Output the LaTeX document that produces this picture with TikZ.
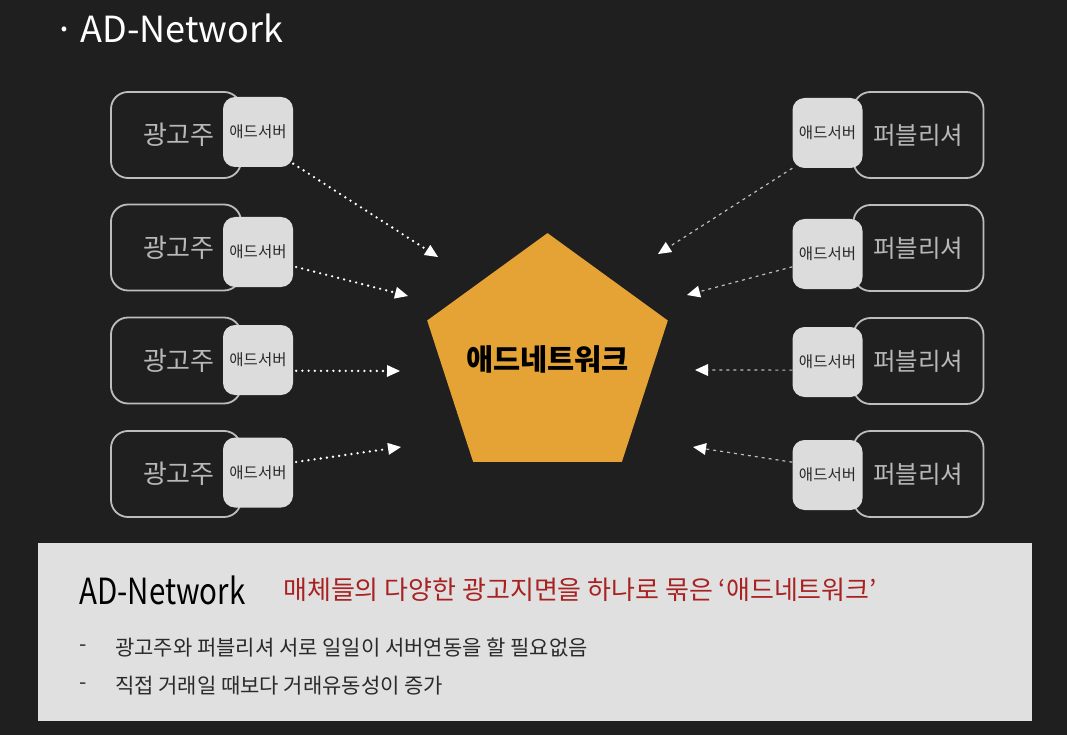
\documentclass[tikz,border=0pt]{standalone}
\usepackage{fontspec}
\setmainfont{Noto Sans CJK KR}
\usetikzlibrary{arrows.meta,shapes.geometric}
\definecolor{bg}{HTML}{1F1F1F}
\definecolor{chalk}{HTML}{BDBDBD}
\definecolor{srvfill}{HTML}{DCDCDC}
\definecolor{srvtext}{HTML}{2A2A2A}
\definecolor{roletext}{HTML}{B8B8B8}
\definecolor{netfill}{HTML}{E5A335}
\definecolor{panel}{HTML}{E0E0E0}
\definecolor{redtext}{HTML}{A82222}
\tikzset{
  outerbox/.style={draw=chalk, line width=1.8pt, rounded corners=17pt, minimum width=130pt, minimum height=86pt, inner sep=0pt, text=roletext},
  srvbox/.style={fill=srvfill, rounded corners=12pt, minimum width=70pt, minimum height=70pt, inner sep=0pt, text=srvtext, font=\fontsize{15.5}{16}\selectfont},
  leftarrow/.style={draw=white, line width=2.6pt, line cap=round, dash pattern=on 0pt off 6.2pt, -{Triangle[length=13pt,width=12pt,fill=white,line width=0pt]}},
  rightarrow/.style={draw=chalk, line width=1.2pt, dash pattern=on 3pt off 4pt, -{Triangle[length=13pt,width=12pt,fill=white,color=white,line width=0pt]}},
}
\begin{document}
\begin{tikzpicture}[x=1pt,y=-1pt]
\fill[bg] (0,0) rectangle (1067,735);
\useasboundingbox (0,0) rectangle (1067,735);

% title
\node[anchor=west, text=white, font=\fontsize{36}{36}\selectfont, inner sep=0pt] (title) at (54,28) {·\,AD-Network};

% advertisers
\foreach \i/\yo/\yi in {1/135/132, 2/247.5/252, 3/360.5/360, 4/474/472.5}{
  \node[outerbox, text width=110pt, align=left, font=\fontsize{26}{26}\selectfont] (adv\i) at (176,\yo) {\hspace*{22pt}광고주};
  \node[srvbox] (srvL\i) at (258,\yi) {애드서버};
}
% publishers
\foreach \i/\yo/\yi in {1/135/133, 2/248/254, 3/361/362, 4/474/475}{
  \node[outerbox, text width=110pt, align=right, font=\fontsize{24.5}{25}\selectfont] (pub\i) at (918.5,\yo) {퍼블리셔\hspace*{10pt}};
  \node[srvbox] (srvR\i) at (827.5,\yi) {애드서버};
}

% network pentagon
\node[regular polygon, regular polygon sides=5, minimum size=253pt, inner sep=0pt, fill=netfill] (net) at (547.5,359.6) {};
\node[font=\fontsize{29.5}{30}\selectfont\bfseries, text=black] (netlabel) at (net.center) {애드네트워크};

% arrow tips
\coordinate (tL1) at (438,257);
\coordinate (tL2) at (408,296);
\coordinate (tL3) at (400,371);
\coordinate (tL4) at (401,447);
\coordinate (tR1) at (658,254);
\coordinate (tR2) at (687,295);
\coordinate (tR3) at (695,370);
\coordinate (tR4) at (693,447);

\draw[leftarrow] (srvL1.-42) -- (tL1);
\draw[leftarrow, shorten <=3pt] (srvL2.-22) -- (tL2);
\draw[leftarrow, shorten <=3pt] (srvL3.-17) -- (tL3);
\draw[leftarrow, shorten <=3pt] (srvL4.16) -- (tL4);

\draw[rightarrow] (srvR1.-135) -- (tR1);
\draw[rightarrow] (srvR2.-160) -- (tR2);
\draw[rightarrow] (srvR3.-167) -- (tR3);
\draw[rightarrow] (srvR4.160) -- (tR4);

% bottom panel
\fill[panel] (38,543) rectangle (1032,721);
\node[anchor=west, inner sep=0pt, text=black] (adnet) at (79,590) {\scalebox{0.82}[1]{\fontsize{36}{36}\selectfont AD-Network}};
\node[anchor=west, inner sep=0pt, text=redtext, font=\fontsize{26}{26}\selectfont] (desc) at (283,590) {매체들의 다양한 광고지면을 하나로 묶은 ‘애드네트워크’};
\node[anchor=west, inner sep=0pt, text=srvtext, font=\fontsize{21}{21}\selectfont] (d1) at (79,648) {-};
\node[anchor=west, inner sep=0pt, text=srvtext, font=\fontsize{21}{21}\selectfont] (b1) at (115,648) {광고주와 퍼블리셔 서로 일일이 서버연동을 할 필요없음};
\node[anchor=west, inner sep=0pt, text=srvtext, font=\fontsize{21}{21}\selectfont] (d2) at (79,686) {-};
\node[anchor=west, inner sep=0pt, text=srvtext, font=\fontsize{21}{21}\selectfont] (b2) at (115,686) {직접 거래일 때보다 거래유동성이 증가};
\end{tikzpicture}
\end{document}
